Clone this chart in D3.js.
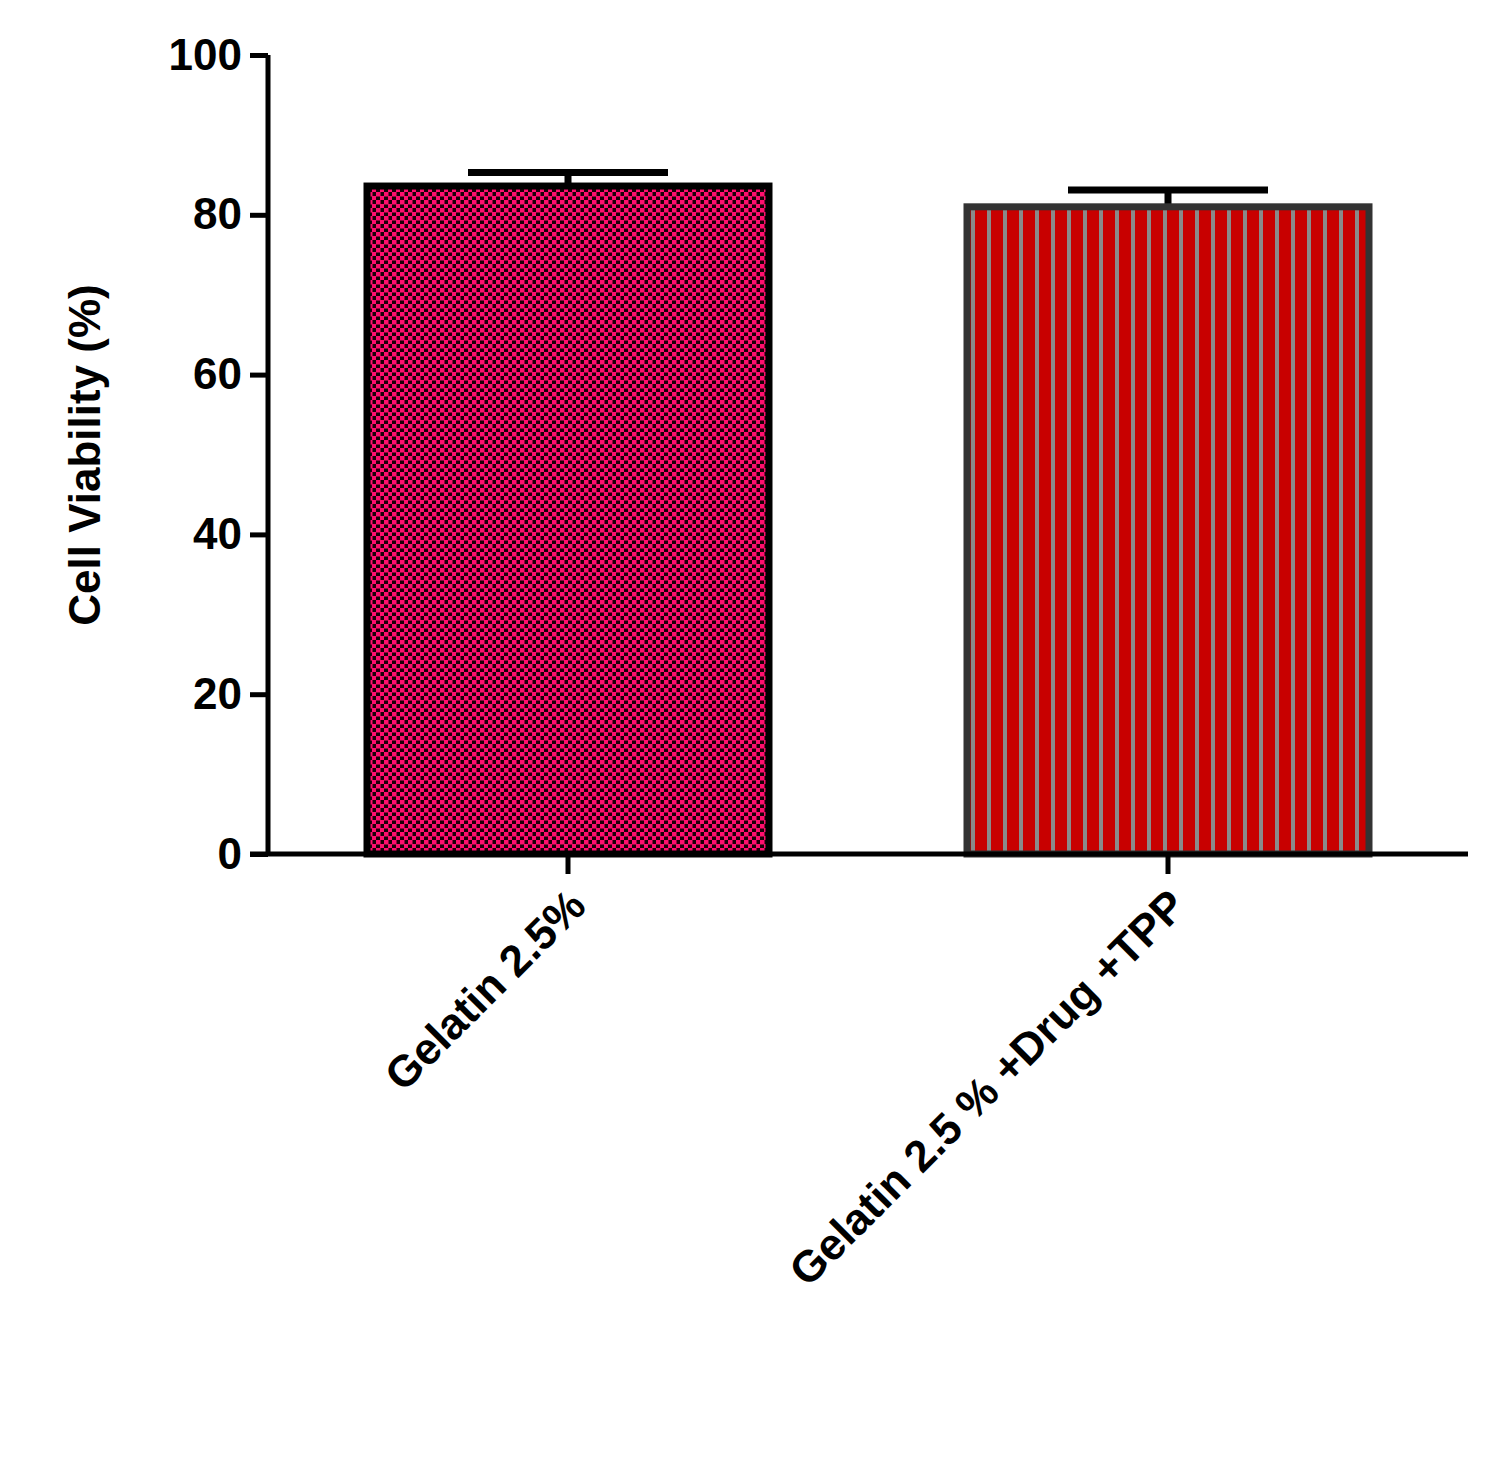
<!DOCTYPE html>
<html><head><meta charset="utf-8">
<script src="https://cdn.jsdelivr.net/npm/d3@7"></script>
<style>body{margin:0;background:#fff}</style></head>
<body><svg id="c" width="1494" height="1459"></svg>
<script>
const categories = ["Gelatin 2.5%", "Gelatin 2.5 % +Drug +TPP"];
const means = [83.6, 81.0];
const errors = [1.7, 2.1];
const yTicks = [0, 20, 40, 60, 80, 100];

const svg = d3.select("#c");
const defs = svg.append("defs");
const p1 = defs.append("pattern").attr("id","p1").attr("patternUnits","userSpaceOnUse").attr("width",8).attr("height",8);
p1.append("rect").attr("width",8).attr("height",8).attr("fill","#1a0008");
p1.append("rect").attr("x",0).attr("y",0).attr("width",4.5).attr("height",4.5).attr("fill","#ff0f6e");
p1.append("rect").attr("x",4).attr("y",4).attr("width",4.5).attr("height",4.5).attr("fill","#ff0f6e");
const p2 = defs.append("pattern").attr("id","p2").attr("patternUnits","userSpaceOnUse").attr("width",16).attr("height",16);
p2.append("rect").attr("width",16).attr("height",16).attr("fill","#c80000");
p2.append("rect").attr("x",11).attr("width",4).attr("height",16).attr("fill","#8a8a8a");

const x = d3.scaleBand().domain(categories).range([268,1468]).paddingInner(0.33).paddingOuter(0.165);
const y = d3.scaleLinear().domain([0,100]).range([854,55]);
const fills = ["url(#p1)","url(#p2)"];
const strokes = ["#000","#333"];

const g = svg.append("g");
categories.forEach((c,i)=>{
  const xc = x(c)+x.bandwidth()/2;
  g.append("line").attr("x1",xc).attr("x2",xc).attr("y1",y(means[i])).attr("y2",y(means[i]+errors[i])).attr("stroke","#000").attr("stroke-width",7);
  g.append("line").attr("x1",xc-100).attr("x2",xc+100).attr("y1",y(means[i]+errors[i])).attr("y2",y(means[i]+errors[i])).attr("stroke","#000").attr("stroke-width",7);
  g.append("rect").attr("x",x(c)).attr("y",y(means[i])).attr("width",x.bandwidth()).attr("height",y(0)-y(means[i]))
    .attr("fill",fills[i]).attr("stroke",strokes[i]).attr("stroke-width",7);
});

const ya = svg.append("g").attr("transform","translate(268,0)")
  .call(d3.axisLeft(y).tickValues(yTicks).tickSize(18).tickPadding(8));
ya.select(".domain").attr("stroke","#000").attr("stroke-width",5).attr("d","M0,854V55");
ya.selectAll(".tick line").attr("stroke","#000").attr("stroke-width",5);
ya.selectAll("text").attr("font-family","Liberation Sans, Arial, sans-serif").attr("font-weight","bold").attr("font-size",44).attr("fill","#000");

const xa = svg.append("g").attr("transform","translate(0,854)")
  .call(d3.axisBottom(x).tickSize(20).tickFormat(""));
xa.select(".domain").attr("stroke","#000").attr("stroke-width",5).attr("d","M250,0H1468");
xa.selectAll(".tick line").attr("stroke","#000").attr("stroke-width",5);

categories.forEach(c=>{
  const xc = x(c)+x.bandwidth()/2;
  svg.append("text").attr("transform",`translate(${xc+12},900) rotate(-45)`)
    .attr("text-anchor","end").attr("dominant-baseline","middle")
    .attr("font-family","Liberation Sans, Arial, sans-serif").attr("font-weight","bold").attr("font-size",44).text(c);
});

svg.append("text").attr("transform","translate(100,455) rotate(-90)").attr("text-anchor","middle")
  .attr("font-family","Liberation Sans, Arial, sans-serif").attr("font-weight","bold").attr("font-size",44).text("Cell Viability (%)");
</script></body></html>
